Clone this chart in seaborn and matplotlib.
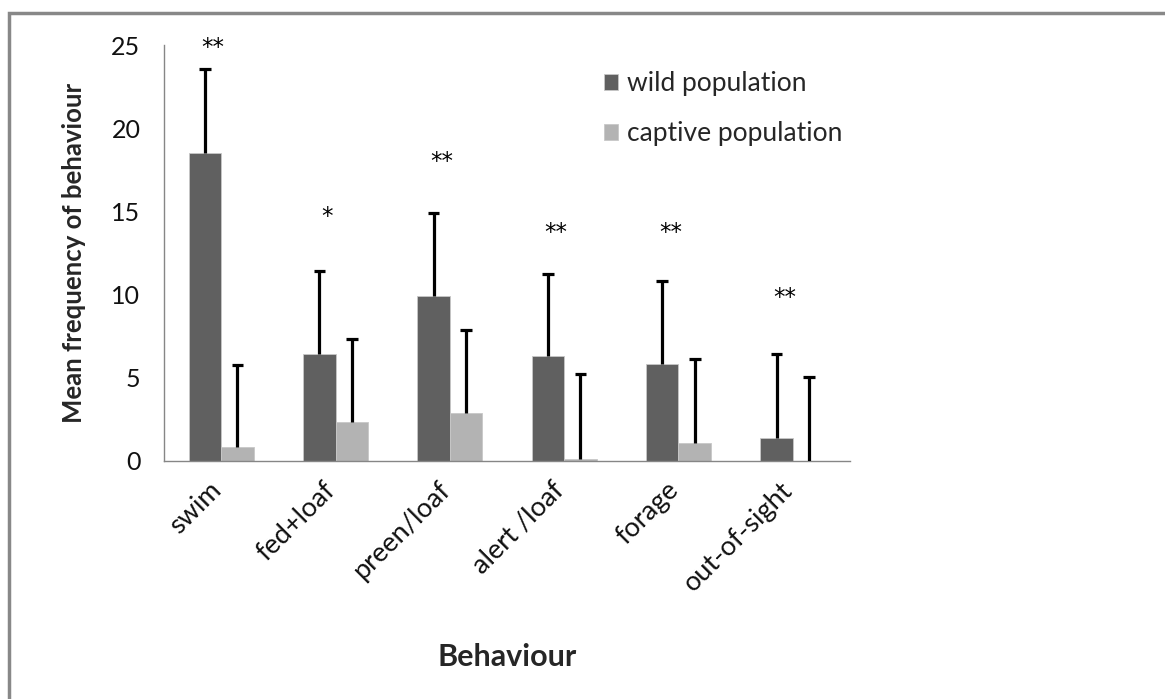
import pandas as pd
import seaborn as sns
import matplotlib.pyplot as plt
from matplotlib.patches import Rectangle

# values
behaviours = ["swim", "fed+loaf", "preen/loaf", "alert /loaf", "forage", "out-of-sight"]
wild_mean = [18.5, 6.4, 9.9, 6.3, 5.8, 1.35]
captive_mean = [0.8, 2.35, 2.85, 0.1, 1.05, 0.0]
wild_err = [5.1, 5.0, 5.0, 4.95, 5.0, 5.05]
captive_err = [4.95, 5.0, 5.0, 5.1, 5.05, 5.05]
sig_marks = ["**", "*", "**", "**", "**", "**"]
sig_y = [24.85, 14.7, 18.0, 13.75, 13.75, 9.85]
groups = ["wild population", "captive population"]

df = pd.DataFrame({
    "Behaviour": behaviours * 2,
    "group": [groups[0]] * 6 + [groups[1]] * 6,
    "mean": wild_mean + captive_mean,
})

sns.set_style("white")
plt.rcParams["font.family"] = ["Lato", "DejaVu Sans"]

fig = plt.figure(figsize=(11.65, 6.99), dpi=100)
ax = fig.add_axes([0.1408, 0.3409, 0.5888, 0.5943])

sns.barplot(data=df, x="Behaviour", y="mean", hue="group", order=behaviours,
            hue_order=groups, palette=["#606060", "#b3b3b3"], width=0.57,
            edgecolor="#c8c8c8", linewidth=0.6, errorbar=None, ax=ax)

# upper-only error bars at the centre of each drawn bar
bars = ax.patches[:12]
means = wild_mean + captive_mean
errs = wild_err + captive_err
xs = [b.get_x() + b.get_width() / 2 for b in bars]
tops = [m + e for m, e in zip(means, errs)]
ax.vlines(xs, means, tops, color="black", linewidth=2.3, zorder=5)
ax.hlines(tops, [x - 0.05 for x in xs], [x + 0.05 for x in xs],
          color="black", linewidth=2.3, zorder=5)

# significance stars
for i, (m, y) in enumerate(zip(sig_marks, sig_y)):
    ax.text(i - 0.07, y, m, ha="center", va="center", fontsize=16.5,
            family="DejaVu Sans", color="black")

ax.set_ylim(0, 25)
ax.set_xlim(-0.5, 5.5)
ax.set_yticks([0, 5, 10, 15, 20, 25])
# labels sit slightly left of the category centre, as in the original
ax.set_xticks([i - 0.11 for i in range(6)])
ax.set_xticklabels(behaviours, rotation=45, ha="right", rotation_mode="anchor")
ax.set_xticks([i - 0.5 for i in range(7)], minor=True)
ax.tick_params(axis="x", which="major", length=0, labelsize=19.5, pad=12, labelcolor="#111111")
ax.tick_params(axis="x", which="minor", length=9, color="#868686", width=1, direction="out")
ax.tick_params(axis="y", length=11, color="#868686", width=1, direction="out",
               labelsize=18, pad=6, labelcolor="#111111")
for s in ["top", "right"]:
    ax.spines[s].set_visible(False)
for s in ["left", "bottom"]:
    ax.spines[s].set_color("#868686")
    ax.spines[s].set_linewidth(1)

ax.set_ylabel("Mean frequency of behaviour", fontsize=18.5, fontweight="bold", labelpad=18)
ax.set_xlabel("Behaviour", fontsize=22, fontweight="bold", labelpad=34)

ax.legend(loc="upper left", bbox_to_anchor=(0.509, 0.913), bbox_transform=fig.transFigure,
          frameon=False, fontsize=19, handlelength=0.55, handleheight=0.55,
          handletextpad=0.35, labelspacing=0.95, borderaxespad=0)

# outer chart border
fig.patches.append(Rectangle((9 / 1165, -0.05), 1.2, 1 - 13 / 699 + 0.05,
                             transform=fig.transFigure, fill=False,
                             edgecolor="#888888", linewidth=2.5))

fig.savefig("out.png", dpi=100)
